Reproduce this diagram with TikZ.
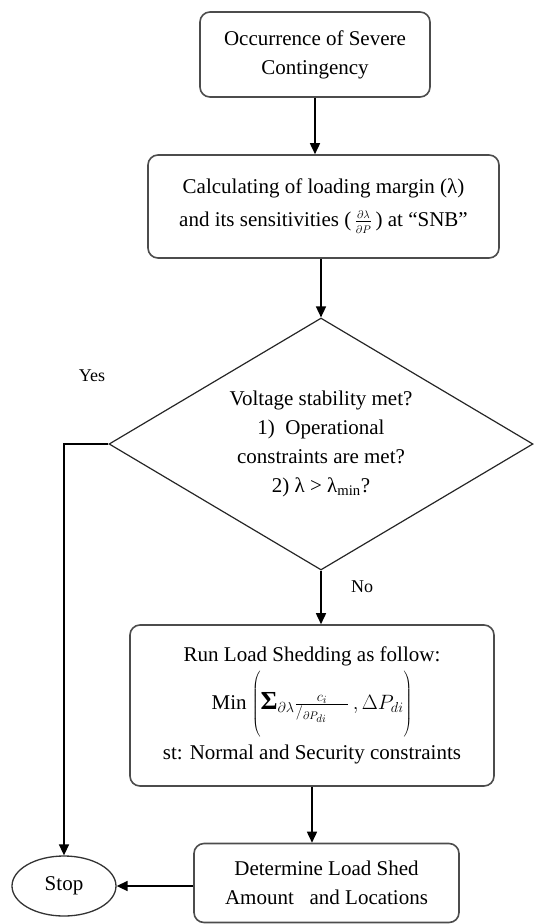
\documentclass[tikz,border=0pt]{standalone}
\usepackage{fontspec}
\setmainfont{Liberation Serif}
\usetikzlibrary{shapes.geometric,arrows.meta}

\begin{document}
\begin{tikzpicture}[x=1pt,y=-1pt,
  txt/.style={font=\fontsize{21}{29}\selectfont},
  procbox/.style={txt, draw=black!70, line width=1.6pt, rounded corners=10pt,
    align=center, inner sep=0pt},
  decision/.style={txt, diamond, draw=black!85, line width=1.2pt, aspect=1.68,
    inner sep=0pt, align=center, minimum width=424pt, minimum height=252pt},
  terminal/.style={txt, ellipse, draw=black!80, line width=1.3pt,
    minimum width=104pt, minimum height=60pt, inner sep=0pt},
  flow/.style={draw=black, line width=1.6pt, -{Triangle[length=11pt,width=10pt]}},
  lbl/.style={font=\fontsize{18}{22}\selectfont, inner sep=0pt}]
\useasboundingbox (0,0) rectangle (533,924);

% process steps
\node[procbox, minimum width=230pt, minimum height=85pt] (occ) at (315,54.5)
  {Occurrence of Severe\\Contingency};
\node[procbox, minimum width=351pt, minimum height=103pt] (calc) at (323.5,206.5)
  {Calculating of loading margin (λ)\\[4pt]
   and its sensitivities (\,$\frac{\scriptscriptstyle\partial\lambda}{\scriptscriptstyle\partial P}$\,) at “SNB”};
\node[decision] (dec) at (321,444)
  {Voltage stability met?\\
   1)\ \ Operational\\
   constraints are met?\\
   2) λ > λ\textsubscript{min}?};
\node[procbox, minimum width=364pt, minimum height=161pt] (shed) at (312,705.5)
  {Run Load Shedding as follow:\\[4pt]
   Min $\left(\rule[-28pt]{0pt}{62pt}\mbox{\fontsize{26}{26}\selectfont\bfseries Σ}_{\partial\lambda}\frac{\quad c_i\quad}{/_{\partial P_{di}}\quad}\,,\Delta P_{di}\right)$\\[7pt]
   st: Normal and Security constraints};
\node[procbox, minimum width=265pt, minimum height=79pt] (amt) at (326.5,883)
  {Determine Load Shed\\Amount\ \ \ and Locations};
\node[terminal] (stop) at (64,886) {Stop};

% connectors
\draw[flow] (occ.south) -- (occ.south |- calc.north);
\draw[flow] (dec.north |- calc.south) -- (dec.north);
\draw[flow] (dec.south) -- (dec.south |- shed.north);
\draw[flow] (shed.south) -- (shed.south |- amt.north);
\coordinate (yesturn) at (64,444);
\draw[flow] (dec.west) -- (yesturn) -- (stop.north);
\draw[flow] (amt.west |- stop.east) -- (stop.east);

% branch labels
\node[lbl] (yes) at (92,376) {Yes};
\node[lbl] (no) at (362,587) {No};
\end{tikzpicture}
\end{document}
